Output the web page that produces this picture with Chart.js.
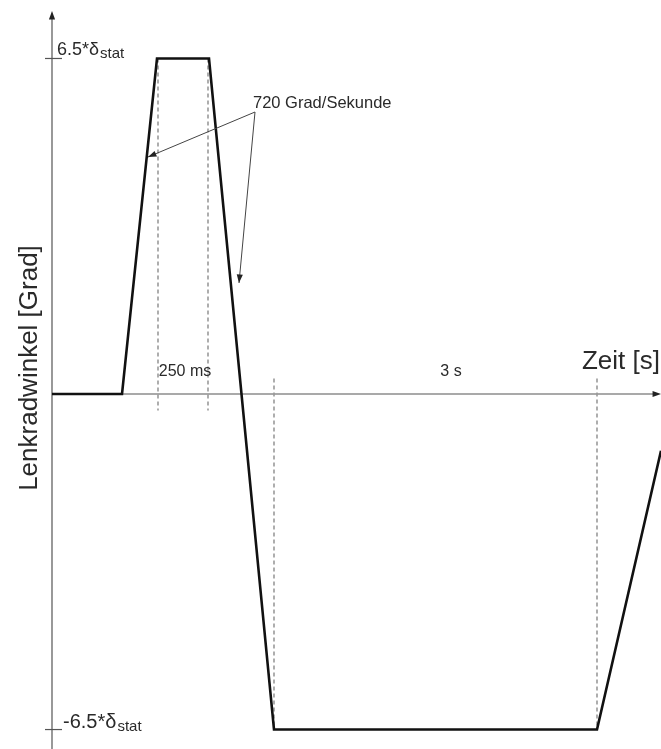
<!DOCTYPE html>
<html>
<head>
<meta charset="utf-8">
<script src="https://cdn.jsdelivr.net/npm/chart.js@4"></script>
<style>
  body { margin: 0; background: #fff; }
  canvas { display: block; }
</style>
</head>
<body>
<canvas id="chart" width="661" height="749"></canvas>
<script>
// schematic time axis (y axis sits at 0), steering angle in units of delta_stat
const timePoints = [0, 70, 105, 157, 222, 545, 609];
const angleValues = [0, 0, 6.5, 6.5, -6.5, -6.5, -1.1];

// dashed helper lines: [time, from angle, to angle]
const markerTimes = [106, 156, 222, 545];
const markerFrom = [6.5, 6.5, 0.3, 0.3];
const markerTo = [-0.32, -0.32, -6.5, -6.5];

const yTickValues = [6.5, -6.5];
const yTickLabels = ['6.5*δ', '-6.5*δ'];
const yTickSub = 'stat';

const xTitle = 'Zeit [s]';
const yTitle = 'Lenkradwinkel [Grad]';
const rateLabel = '720 Grad/Sekunde';
const pulseLabel = '250 ms';
const holdLabel = '3 s';

function arrowHead(ctx, x0, y0, x1, y1, size) {
  const a = Math.atan2(y1 - y0, x1 - x0);
  ctx.beginPath();
  ctx.moveTo(x1, y1);
  ctx.lineTo(x1 - size * Math.cos(a - 0.35), y1 - size * Math.sin(a - 0.35));
  ctx.lineTo(x1 - size * Math.cos(a + 0.35), y1 - size * Math.sin(a + 0.35));
  ctx.closePath();
  ctx.fill();
}

const schematicPlugin = {
  id: 'schematic',
  beforeDatasetsDraw(chart) {
    const ctx = chart.ctx;
    const xs = chart.scales.x, ys = chart.scales.y;
    const x0 = xs.getPixelForValue(0), y0 = ys.getPixelForValue(0);
    ctx.save();
    // axes
    ctx.strokeStyle = '#555';
    ctx.fillStyle = '#222';
    ctx.lineWidth = 1.2;
    ctx.beginPath();
    ctx.moveTo(x0, 749);
    ctx.lineTo(x0, 16);
    ctx.moveTo(x0, y0);
    ctx.lineTo(655, y0);
    ctx.stroke();
    arrowHead(ctx, x0, 40, x0, 11, 9);
    arrowHead(ctx, 630, y0, 661, y0, 9);
    // y ticks
    yTickValues.forEach(v => {
      const py = ys.getPixelForValue(v);
      ctx.beginPath();
      ctx.moveTo(x0 - 7, py);
      ctx.lineTo(x0 + 10, py);
      ctx.stroke();
    });
    // dashed helpers
    ctx.strokeStyle = '#9a9a9a';
    ctx.lineWidth = 1.6;
    ctx.setLineDash([4, 3]);
    markerTimes.forEach((t, i) => {
      const px = xs.getPixelForValue(t);
      ctx.beginPath();
      ctx.moveTo(px, ys.getPixelForValue(markerFrom[i]));
      ctx.lineTo(px, ys.getPixelForValue(markerTo[i]));
      ctx.stroke();
    });
    ctx.setLineDash([]);
    ctx.restore();
  },
  afterDatasetsDraw(chart) {
    const ctx = chart.ctx;
    const xs = chart.scales.x, ys = chart.scales.y;
    const x0 = xs.getPixelForValue(0), y0 = ys.getPixelForValue(0);
    ctx.save();
    ctx.fillStyle = '#2a2a2a';
    // tick labels with subscript
    yTickValues.forEach((v, i) => {
      const py = ys.getPixelForValue(v);
      const lx = i === 0 ? x0 + 5 : x0 + 11;
      const by = i === 0 ? py - 3 : py - 2;
      ctx.font = (i === 0 ? '18px' : '20px') + ' "Liberation Sans", Arial, sans-serif';
      ctx.textAlign = 'left';
      ctx.textBaseline = 'alphabetic';
      ctx.fillText(yTickLabels[i], lx, by);
      const w = ctx.measureText(yTickLabels[i]).width;
      ctx.font = '15px "Liberation Sans", Arial, sans-serif';
      ctx.fillText(yTickSub, lx + w + 1, by + 3);
    });
    // axis titles
    ctx.font = '26px "Liberation Sans", Arial, sans-serif';
    ctx.textAlign = 'right';
    ctx.fillText(xTitle, 660, y0 - 25);
    ctx.save();
    ctx.translate(37, 368);
    ctx.rotate(-Math.PI / 2);
    ctx.textAlign = 'center';
    ctx.fillText(yTitle, 0, 0);
    ctx.restore();
    // interval labels
    ctx.font = '16px "Liberation Sans", Arial, sans-serif';
    ctx.textAlign = 'center';
    ctx.fillText(pulseLabel, (xs.getPixelForValue(markerTimes[0]) + xs.getPixelForValue(markerTimes[1])) / 2 + 2, y0 - 18);
    ctx.fillText(holdLabel, 451, y0 - 18);
    // rate annotation
    ctx.textAlign = 'left';
    ctx.font = '16.5px "Liberation Sans", Arial, sans-serif';
    ctx.fillText(rateLabel, 253, 108);
    ctx.strokeStyle = '#444';
    ctx.fillStyle = '#222';
    ctx.lineWidth = 1;
    ctx.beginPath();
    ctx.moveTo(255, 112);
    ctx.lineTo(148, 157);
    ctx.moveTo(255, 112);
    ctx.lineTo(239, 283);
    ctx.stroke();
    arrowHead(ctx, 255, 112, 148, 157, 9);
    arrowHead(ctx, 255, 112, 239, 283, 9);
    ctx.restore();
  }
};

new Chart(document.getElementById('chart'), {
  type: 'line',
  data: {
    datasets: [{
      data: timePoints.map((t, i) => ({ x: t, y: angleValues[i] })),
      borderColor: '#111',
      borderWidth: 2.6,
      pointRadius: 0,
      tension: 0,
      fill: false
    }]
  },
  options: {
    responsive: false,
    animation: false,
    devicePixelRatio: 1,
    layout: { padding: 0 },
    plugins: { legend: { display: false }, tooltip: { enabled: false } },
    scales: {
      x: { type: 'linear', min: -52, max: 609, display: false },
      y: { min: -6.877, max: 7.633, display: false }
    }
  },
  plugins: [schematicPlugin]
});
</script>
</body>
</html>
